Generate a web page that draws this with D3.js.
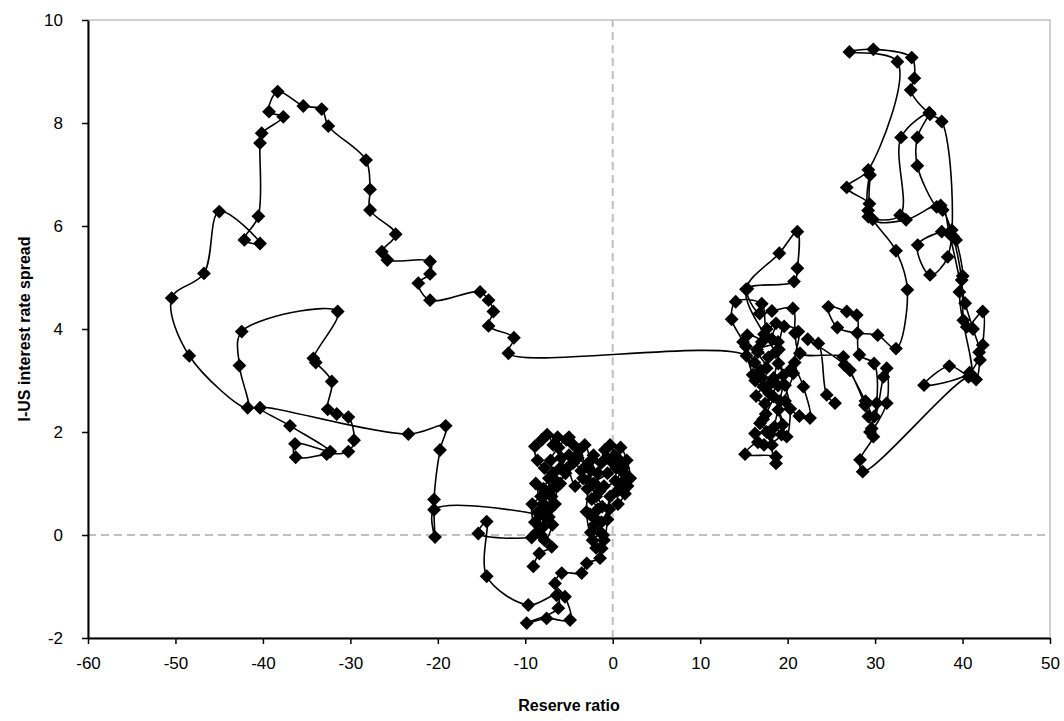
<!DOCTYPE html>
<html>
<head>
<meta charset="utf-8">
<script src="https://cdn.jsdelivr.net/npm/d3@7"></script>
<style>
  body { margin: 0; background: #fff; }
  text { font-family: "Liberation Sans", Arial, sans-serif; }
</style>
</head>
<body>
<div id="chart"></div>
<script>
"use strict";

// path segments, [reserve ratio, I-US spread], in drawing order
let originCluster = [
 [-9.08,-0.61],[-8.39,-0.36],[-6.98,-0.23],[-8.2,0.0],[-9.27,-0.05],[-15.37,0.03],[-14.41,0.26],[-14.41,-0.8],
 [-9.65,-1.36],[-6.41,-1.17],[-6.22,-1.42],[-9.84,-1.71],[-7.56,-1.62],[-4.88,-1.65],[-5.46,-1.2],[-6.6,-0.94],
 [-5.83,-0.74],[-3.55,-0.74],[-2.97,-0.55],[-1.45,-0.45],[-1.26,-0.26],[-2.3,-0.1],[-1.4,0.05],[-2.1,0.2],
 [-2.6,0.4],[-1.7,0.5],[-2.4,0.7],[-1.5,0.85],[-2.2,1.0],[-0.6,1.2],[0.2,1.55],[-0.3,1.75],[0.8,1.45],
 [1.3,1.2],[1.7,0.95],[1.0,0.95],[1.5,1.1],[0.4,1.3],[-0.7,1.5],[-1.3,1.4],[-2.2,1.55],[-3.0,1.35],
 [-3.8,1.65],[-4.5,1.75],[-5.3,1.85],[-6.3,1.9],[-5.9,1.5],[-6.8,1.75],[-7.5,1.95],[-8.1,1.85],[-8.9,1.72],
 [-8.6,1.45],[-7.8,1.3],[-7.3,1.1],[-7.9,0.9],[-7.0,0.75],[-7.6,0.55],[-8.5,0.45],[-8.9,0.25],[-8.0,0.15],
 [-7.3,0.35],[-6.6,0.6],[-6.3,0.95],[-5.4,1.2],[-4.5,1.4],[-3.6,1.25],[-2.8,1.05],[-1.9,0.75],[-1.2,0.55],
 [-1.9,0.3],[-1.1,0.0],[-1.9,-0.25],[-1.0,-0.1],[-0.6,0.3],[-0.3,0.75],[0.5,0.85],[1.2,1.3],[0.3,1.05],
 [-1.0,0.95],[-2.5,1.25],[-4.0,1.5],[-5.0,1.55],[-6.0,1.3],[-6.8,1.2],[-7.6,0.8],[-8.0,0.6],
 [-8.8,1.0],[-8.2,0.75],[-9.2,0.6],[-8.7,0.05],[-7.8,-0.1],[-6.9,0.2],[-7.2,0.5],[-6.5,1.05],[-7.1,1.45],
 [-6.2,1.7],[-5.0,1.9],[-4.1,1.55],[-3.2,1.75],[-2.5,1.45],[-1.7,1.2],[-0.9,1.65],[0.0,1.4],[0.9,1.7],
 [1.6,1.45],[2.0,1.1],[1.4,0.8],[0.6,0.6],[-0.4,0.5],[-1.3,0.25],[-2.5,0.05],[-3.0,0.45],[-2.9,0.9],
 [-3.4,1.1],[-4.3,0.95],[-5.2,1.3],[-6.0,1.0],[-6.9,0.9],[-7.7,0.35],[-8.31,0.39]
];

let leftLoop = [
 [-20.43,0.49],[-20.32,-0.04],[-20.43,0.69],[-19.75,1.65],[-19.1,2.12],[-23.37,1.96],[-40.33,2.47],
 [-36.9,2.12],[-32.3,1.62],[-36.33,1.77],[-36.25,1.51],[-32.7,1.57],[-30.23,1.62],[-29.58,1.84],
 [-30.23,2.29],[-31.56,2.35],[-32.59,2.44],[-32.13,2.98],[-33.96,3.35],[-34.23,3.43],[-31.45,4.34],
 [-42.42,3.95],[-42.69,3.29],[-41.74,2.47],[-48.42,3.48],[-50.43,4.6],[-46.74,5.08],[-44.99,6.28],
 [-40.33,5.66],[-42.12,5.73],[-40.52,6.19],[-40.33,7.61],[-40.14,7.8],[-37.67,8.12],[-39.3,8.22],
 [-38.31,8.61],[-35.38,8.33],[-33.28,8.27],[-32.52,7.94],[-28.21,7.28],[-27.75,6.71],[-27.75,6.31],
 [-24.82,5.84],[-26.4,5.5],[-25.77,5.34],[-20.89,5.31],[-20.89,5.07],[-22.23,4.89],[-20.89,4.56],
 [-15.17,4.72],[-14.2,4.56],[-13.65,4.34],[-14.2,4.06],[-11.3,3.83],[-11.93,3.53]
];

let rightMid = [
 [15.3,3.48],[16.0,3.11],[17.6,3.24],[16.6,3.55],[17.04,3.75],[15.39,3.88],[15.24,3.66],[16.2,3.35],
 [17.1,3.05],[17.22,2.88],[16.4,2.7],[17.4,2.55],[18.36,2.69],[17.5,2.35],[16.84,2.17],[17.6,2.0],
 [16.27,1.97],[17.3,1.75],[16.6,1.8],[15.13,1.57],[18.67,1.52],[18.67,1.39],[18.2,1.75],[19.3,1.95],
 [18.5,2.1],[19.43,2.14],[18.94,2.43],[19.89,1.91],[20.3,2.45],[19.7,2.91],[18.94,3.33],[18.4,3.05],
 [19.0,3.6],[18.2,3.8],[18.67,4.11],[17.6,4.0],[17.04,4.49],[14.06,4.53],[13.6,4.19],[14.9,3.75],
 [16.3,3.0],[17.9,2.75],[18.9,2.9],[20.27,3.2],[20.65,3.14],[19.7,2.6],[21.34,2.31],[22.56,2.27],
 [21.8,2.88],[20.8,3.35],[21.22,3.95],[19.6,4.05],[18.9,3.75],[16.5,3.6],[17.8,3.45],[16.9,3.2],
 [18.1,2.95],[17.2,2.25],[18.0,1.95],[19.1,2.6],[19.5,3.1],[18.6,3.55],[17.3,3.9],[15.24,4.77],
 [19.05,5.47],[21.11,5.89],[21.11,5.18],[20.73,4.92],[15.4,4.78],[16.8,4.3],[18.2,4.35],[20.6,4.4],
 [20.84,3.92],[21.41,3.53]
];

let rightUpper = [
 [26.37,3.46],[27.13,3.2],[28.85,2.52],[29.23,2.3],[29.61,2.07],[29.8,1.91],[28.28,1.46],[28.58,1.23],
 [40.67,3.07],[41.55,3.02],[42.0,3.4],[42.31,3.69],[42.31,4.34],[40.48,4.04],[39.64,4.72],[40.02,5.03],
 [39.26,5.73],[38.76,5.92],[37.62,5.89],[34.87,5.63],[36.28,5.05],[38.3,5.4],[37.62,8.03],[36.28,8.17],
 [34.08,8.64],[34.49,8.87],[34.19,9.27],[29.8,9.43],[27.06,9.38],[32.55,9.19],[29.23,7.09],[26.76,6.75],
 [29.35,6.43],[29.23,6.18],[32.86,6.21],[32.97,7.72],[36.2,8.2],[34.83,7.72],[34.83,7.17],[37.04,6.37],
 [37.73,6.31],[38.9,5.8],[39.9,4.95],[40.09,4.17],[40.9,3.1],[38.49,3.28],[35.6,2.91],[40.8,3.15],
 [41.9,3.55],[41.2,4.0],[40.3,4.5],[38.5,5.85],[37.5,6.4],[33.54,6.12],[29.73,6.13],[29.42,6.99],
 [29.2,6.3],[32.39,5.52],[33.69,4.76],[32.39,3.62],[30.3,3.88],[27.97,3.92],[25.68,4.03],[24.66,4.43],
 [26.76,4.34],[27.9,4.27],[28.2,3.5],[29.88,3.33],[30.18,2.56],[29.42,2.0],[31.33,2.56],[31.33,3.24],
 [30.95,3.07],[29.9,2.3],[28.9,2.6],[26.5,3.3],[22.3,3.8],[23.51,3.72],[24.47,2.72],[25.42,2.56]
];

let xTicks = [-60,-50,-40,-30,-20,-10,0,10,20,30,40,50];
let yTicks = [-2,0,2,4,6,8,10];

let series = originCluster.concat(leftLoop, rightMid, rightUpper);

// svg
let svg = d3.select("#chart")
.append("svg")
.attr("width",1064)
.attr("height",721);

// scales
let xScale = d3.scaleLinear()
.domain([-60,50])
.range([88,1050]);

let yScale = d3.scaleLinear()
.domain([-2,10])
.range([638,20]);

// plot border
svg.append("rect")
.attr("x",xScale(-60))
.attr("y",yScale(10))
.attr("width",xScale(50)-xScale(-60))
.attr("height",yScale(-2)-yScale(10))
.attr("fill","none")
.attr("stroke","#c0c0c0")
.attr("stroke-width",1.5);

// zero reference lines
svg.append("line")
.attr("x1",xScale(-60)).attr("x2",xScale(50))
.attr("y1",yScale(0)).attr("y2",yScale(0))
.attr("stroke","#c0c0c0").attr("stroke-width",2)
.attr("stroke-dasharray","8,5");

svg.append("line")
.attr("x1",xScale(0)).attr("x2",xScale(0))
.attr("y1",yScale(-2)).attr("y2",yScale(10))
.attr("stroke","#c0c0c0").attr("stroke-width",2)
.attr("stroke-dasharray","8,5");

// axes, plain hyphen minus in labels
let fmt = function(d){ return String(d); };

svg.append("g")
.attr("transform","translate(0,"+yScale(-2)+")")
.call(d3.axisBottom(xScale).tickValues(xTicks).tickFormat(fmt).tickSize(6).tickPadding(13).tickSizeOuter(0));

svg.append("g")
.attr("transform","translate("+xScale(-60)+",0)")
.call(d3.axisLeft(yScale).tickValues(yTicks).tickFormat(fmt).tickSize(6).tickPadding(19).tickSizeOuter(0));

svg.selectAll(".domain").attr("stroke","#000").attr("stroke-width",2);
svg.selectAll(".tick line").attr("stroke","#000").attr("stroke-width",1.5);
svg.selectAll(".tick text")
.attr("font-size",17)
.attr("font-family","'Liberation Sans', Arial, sans-serif")
.attr("fill","#000");

// connected path
let line = d3.line()
.x(function(d){ return xScale(d[0]); })
.y(function(d){ return yScale(d[1]); })
.curve(d3.curveCatmullRom.alpha(0.5));

svg.append("path")
.datum(series)
.attr("d",line)
.attr("fill","none")
.attr("stroke","#000")
.attr("stroke-width",1.6);

// diamond markers
let diamond = d3.symbol().type(d3.symbolSquare).size(96);

svg.selectAll("path.pt")
.data(series)
.join("path")
.attr("class","pt")
.attr("d",diamond)
.attr("transform",function(d){
  return "translate("+xScale(d[0])+","+yScale(d[1])+") rotate(45)";
})
.attr("fill","#000");

// axis titles
svg.append("text")
.attr("x",(xScale(-60)+xScale(50))/2)
.attr("y",711)
.attr("text-anchor","middle")
.attr("font-size",16)
.attr("font-weight","bold")
.text("Reserve ratio");

svg.append("text")
.attr("transform","translate(30,"+((yScale(10)+yScale(-2))/2)+") rotate(-90)")
.attr("text-anchor","middle")
.attr("font-size",16)
.attr("font-weight","bold")
.text("I-US interest rate spread");
</script>
</body>
</html>
